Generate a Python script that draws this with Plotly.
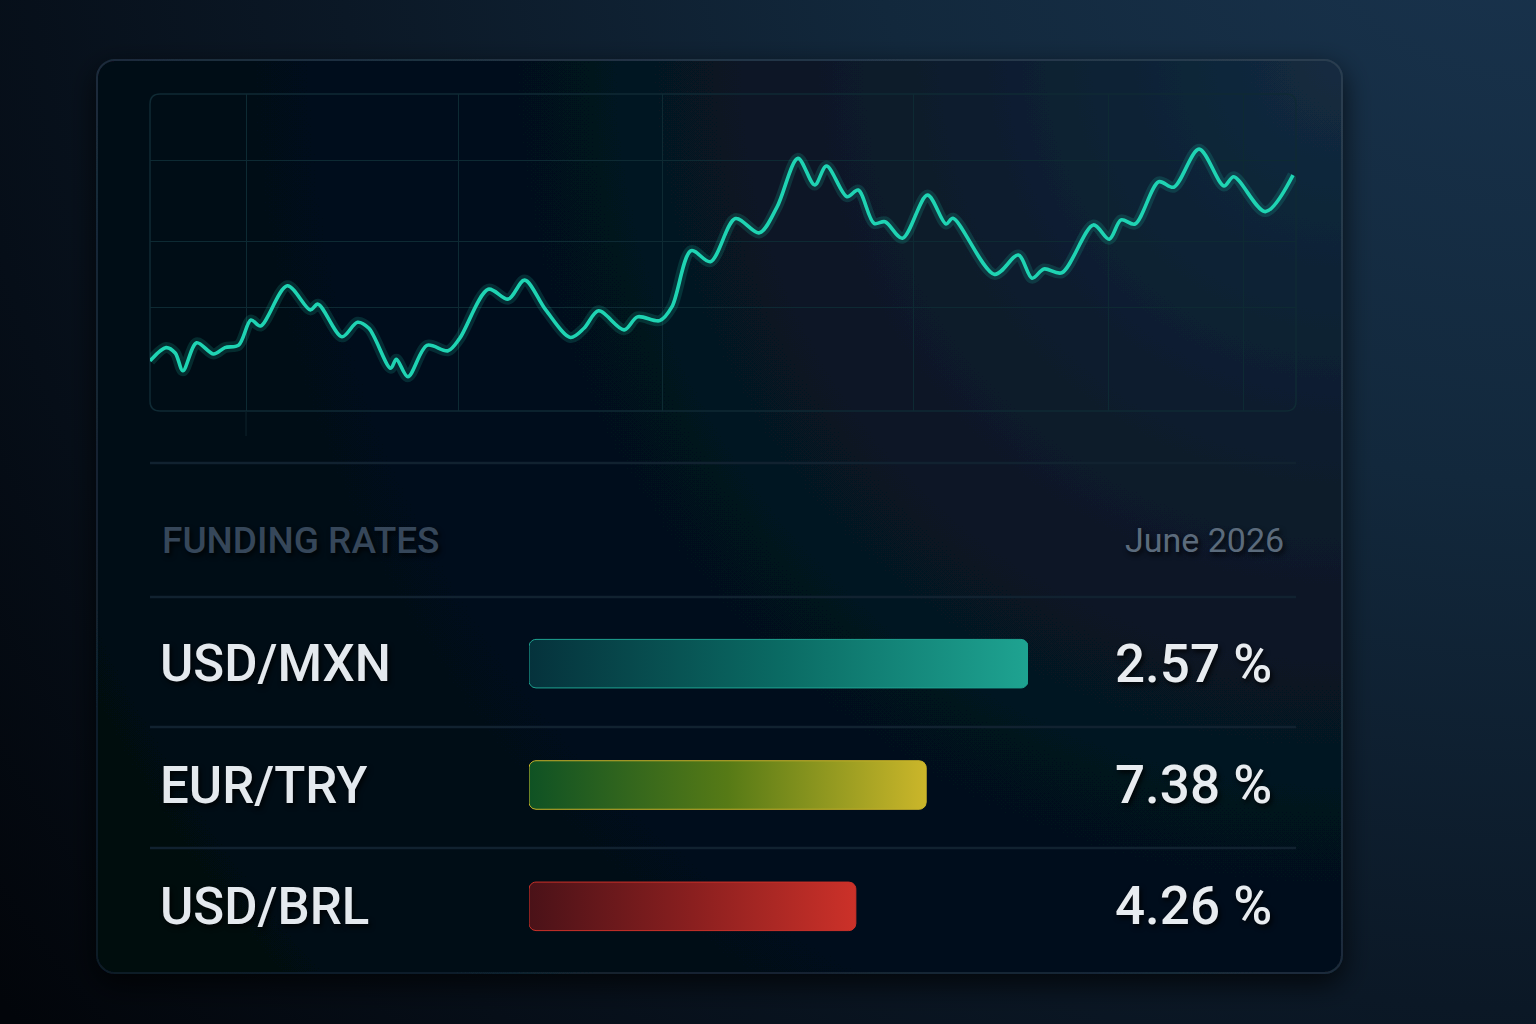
import base64
import numpy as np
import plotly.graph_objects as go

# ---------------- data ----------------
# line chart (x: time index 0..100, y: index level 0..100)
line_x = [0.0, 1.40, 2.20, 2.87, 4.07, 5.54, 6.54, 7.74, 8.81, 9.64, 11.98, 13.99, 14.66, 16.75,
          18.10, 19.10, 21.00, 21.50, 22.50, 24.17, 26.00, 27.02, 29.52, 31.26, 32.69, 34.53,
          36.69, 37.87, 39.14, 41.37, 42.54, 44.48, 45.55, 47.22, 48.91, 51.08, 53.17, 54.72,
          56.54, 58.00, 59.03, 60.82, 61.80, 63.18, 64.14, 65.66, 67.84, 69.46, 70.07, 73.70,
          75.77, 76.97, 78.01, 79.56, 82.32, 83.70, 84.74, 85.95, 88.02, 89.33, 91.54, 93.71,
          94.57, 97.33, 99.74]
line_y = [15.8, 20.0, 18.3, 12.7, 21.5, 18.0, 20.0, 20.8, 28.7, 26.8, 39.5, 31.9, 33.7, 23.4,
          28.0, 26.1, 13.5, 16.3, 10.8, 20.7, 19.0, 22.9, 38.4, 35.3, 41.3, 31.9,
          23.2, 26.1, 31.6, 25.6, 29.7, 28.5, 32.9, 50.6, 47.1, 60.7, 56.2, 64.4,
          79.7, 71.3, 77.3, 67.6, 69.7, 59.2, 59.7, 54.5, 68.1, 59.0, 60.8, 43.1,
          49.2, 41.9, 44.8, 43.6, 58.7, 54.2, 60.3, 59.0, 72.3, 70.6, 82.6, 71.0,
          73.9, 62.9, 74.4]
grid_x = [8.38, 26.88, 44.76, 66.58, 83.60, 95.46]
grid_y = [32.5, 53.6, 78.9]

# funding rates table
pairs = ["USD/MXN", "EUR/TRY", "USD/BRL"]
rates = [2.57, 7.38, 4.26]
bar_fill = [1.00, 0.796, 0.655]          # bar length, as a share of the longest bar
header_left = "FUNDING RATES"
header_right = "June 2026"

bar_gradients = [
    ["#05323c", "#0a6a63", "#1ea391"],
    ["#0f5224", "#567a16", "#cbb62a"],
    ["#4a1218", "#8a1f1f", "#cc3129"],
]

W, H = 1536, 1024
def px(x):
    return x / W
def py(y):
    return 1 - y / H

# ---------------- background (svg) ----------------
svg = f"""<svg xmlns='http://www.w3.org/2000/svg' width='{W}' height='{H}' viewBox='0 0 {W} {H}'>
<defs>
<radialGradient id='bg' cx='1536' cy='-200' r='1950' gradientUnits='userSpaceOnUse'>
<stop offset='0' stop-color='#1a3550'/>
<stop offset='0.35' stop-color='#12283c'/>
<stop offset='0.62' stop-color='#0b1826'/>
<stop offset='0.82' stop-color='#060e18'/>
<stop offset='1' stop-color='#02050a'/>
</radialGradient>
<radialGradient id='card' cx='1342' cy='60' r='1500' gradientUnits='userSpaceOnUse'>
<stop offset='0' stop-color='#132b40'/>
<stop offset='0.25' stop-color='#0b1d2e'/>
<stop offset='0.5' stop-color='#05121f'/>
<stop offset='0.8' stop-color='#040c17'/>
<stop offset='1' stop-color='#02070e'/>
</radialGradient>
<linearGradient id='edge' x1='0' y1='1' x2='1' y2='0'>
<stop offset='0' stop-color='#0c1a26'/>
<stop offset='1' stop-color='#2a3d50'/>
</linearGradient>
<filter id='sh' x='-10%' y='-10%' width='120%' height='125%'>
<feDropShadow dx='0' dy='10' stdDeviation='14' flood-color='#000000' flood-opacity='0.7'/>
</filter>
</defs>
<rect width='{W}' height='{H}' fill='url(#bg)'/>
<rect x='97' y='60' width='1245' height='913' rx='18' ry='18' fill='url(#card)' stroke='url(#edge)' stroke-width='2' filter='url(#sh)'/>
</svg>"""
svg_uri = "data:image/svg+xml;base64," + base64.b64encode(svg.encode()).decode()

fig = go.Figure()

# ---------------- line chart ----------------
line_color = "#1fd4b3"
fig.add_trace(go.Scatter(x=line_x, y=line_y, mode="lines", line=dict(color="rgba(31,212,179,0.16)", width=11, shape="spline", smoothing=0.9),
                         hoverinfo="skip", showlegend=False, xaxis="x", yaxis="y"))
fig.add_trace(go.Scatter(x=line_x, y=line_y, mode="lines", line=dict(color=line_color, width=3.6, shape="spline", smoothing=0.9),
                         showlegend=False, xaxis="x", yaxis="y"))

# ---------------- bars (rounded, gradient-filled) ----------------
bar_half = 0.2
def rounded_rect(x1, yc, half, rxp=7, ryp=7, bar_px=499, row_px=121.3):
    rx = rxp / bar_px
    ry = ryp / row_px
    xs, ys = [], []
    corners = [(x1 - rx, yc - half + ry, -90, 0), (x1 - rx, yc + half - ry, 0, 90),
               (0 + rx, yc + half - ry, 90, 180), (0 + rx, yc - half + ry, 180, 270)]
    for cx, cy, a0, a1 in corners:
        for a in np.linspace(np.radians(a0), np.radians(a1), 8):
            xs.append(cx + rx * np.cos(a))
            ys.append(cy + ry * np.sin(a))
    xs.append(xs[0]); ys.append(ys[0])
    return xs, ys

for i, (v, cols) in enumerate(zip(bar_fill, bar_gradients)):
    xs, ys = rounded_rect(v, i, bar_half)
    fig.add_trace(go.Scatter(
        x=xs, y=ys, mode="lines", fill="toself",
        line=dict(color=cols[-1], width=1),
        fillgradient=dict(type="horizontal", colorscale=[[0, cols[0]], [0.5, cols[1]], [1, cols[2]]]),
        hoverinfo="skip", showlegend=False, xaxis="x2", yaxis="y2"))

# ---------------- layout ----------------
plot_l, plot_r, plot_t, plot_b = 150, 1296, 94, 411
grid_col = "#0d2a33"
fig.update_layout(
    width=W, height=H, margin=dict(l=0, r=0, t=0, b=0),
    paper_bgcolor="#07101b", plot_bgcolor="rgba(0,0,0,0)",
    xaxis=dict(domain=[px(plot_l), px(plot_r)], range=[0, 100], tickvals=grid_x, showticklabels=False,
               showgrid=True, gridcolor=grid_col, gridwidth=1.3, zeroline=False, showline=False, ticks=""),
    yaxis=dict(domain=[py(plot_b), py(plot_t)], range=[0, 100], tickvals=grid_y, showticklabels=False,
               showgrid=True, gridcolor=grid_col, gridwidth=1.3, zeroline=False, showline=False, ticks=""),
    xaxis2=dict(domain=[px(529), px(1028)], range=[0, 1], visible=False, anchor="y2"),
    yaxis2=dict(domain=[py(967), py(603)], range=[2.5, -0.5], visible=False, anchor="x2"),
    images=[dict(source=svg_uri, xref="paper", yref="paper", x=0, y=1, sizex=1, sizey=1,
                 sizing="stretch", layer="below", xanchor="left", yanchor="top")],
    showlegend=False,
)

# plot frame (rounded) and extension of first grid line
r = 10
frame = (f"M {px(plot_l + r)} {py(plot_t)} L {px(plot_r - r)} {py(plot_t)} "
         f"Q {px(plot_r)} {py(plot_t)} {px(plot_r)} {py(plot_t + r)} "
         f"L {px(plot_r)} {py(plot_b - r)} Q {px(plot_r)} {py(plot_b)} {px(plot_r - r)} {py(plot_b)} "
         f"L {px(plot_l + r)} {py(plot_b)} Q {px(plot_l)} {py(plot_b)} {px(plot_l)} {py(plot_b - r)} "
         f"L {px(plot_l)} {py(plot_t + r)} Q {px(plot_l)} {py(plot_t)} {px(plot_l + r)} {py(plot_t)} Z")
shapes = [dict(type="path", path=frame, xref="paper", yref="paper", line=dict(color="#0f2a34", width=1.5), layer="below")]
shapes.append(dict(type="line", xref="x", yref="paper", x0=grid_x[0], x1=grid_x[0], y0=py(plot_b), y1=py(436),
                   line=dict(color="#0c2029", width=1.2)))
for yy in [463, 597, 727, 848]:
    shapes.append(dict(type="line", xref="paper", yref="paper", x0=px(150), x1=px(1296), y0=py(yy), y1=py(yy),
                       line=dict(color="#112230", width=2.5)))
fig.update_layout(shapes=shapes)

ann = []
shadow = "2px 3px 5px rgba(0,0,0,0.8)"
ann.append(dict(text=header_left, xref="paper", yref="paper", x=px(160), y=py(540), xanchor="left", yanchor="middle",
                showarrow=False, font=dict(family="Roboto, sans-serif", size=37, weight=500, color="#36475a", shadow=shadow)))
ann.append(dict(text=header_right, xref="paper", yref="paper", x=px(1286), y=py(540), xanchor="right", yanchor="middle",
                showarrow=False, font=dict(family="Roboto, sans-serif", size=34, color="#5b6b7c", shadow=shadow)))
for i, (p, v) in enumerate(zip(pairs, rates)):
    ann.append(dict(text=p, xref="paper", yref="y2", x=px(158), y=i, xanchor="left", yanchor="middle",
                    showarrow=False, font=dict(family="Roboto, sans-serif", size=51, weight=500, color="#e4e9ee", shadow=shadow)))
    ann.append(dict(text=f"{v:.2f} %", xref="paper", yref="y2", x=px(1274), y=i, xanchor="right", yanchor="middle",
                    showarrow=False, font=dict(family="Roboto, sans-serif", size=53, weight=500, color="#e8ecf0", shadow=shadow)))
fig.update_layout(annotations=ann)

fig.write_html("out.html", config={"displayModeBar": False})
